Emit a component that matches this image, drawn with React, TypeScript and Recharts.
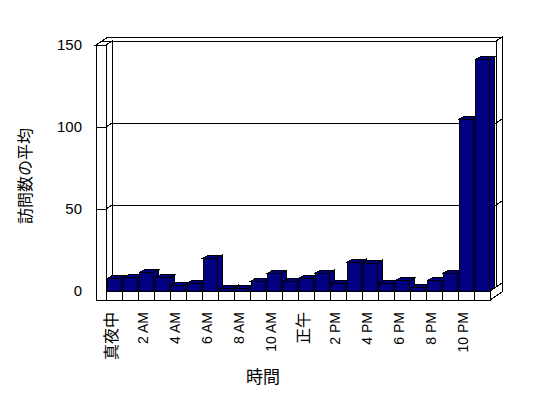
import { BarChart, Bar, XAxis, YAxis, CartesianGrid } from 'recharts';

const hours = [
  '真夜中', '1 AM', '2 AM', '3 AM', '4 AM', '5 AM', '6 AM', '7 AM', '8 AM', '9 AM', '10 AM', '11 AM',
  '正午', '1 PM', '2 PM', '3 PM', '4 PM', '5 PM', '6 PM', '7 PM', '8 PM', '9 PM', '10 PM', '11 PM',
];
const visits = [
  7.5, 8, 11, 8, 3.3, 4.7, 20, 1.6, 1.6, 6, 10.5, 6,
  7.7, 10.8, 4.7, 17.5, 16.9, 4.7, 6.1, 2, 6.1, 10.8, 104.7, 140.9,
];
const yTicks = [0, 50, 100, 150];

const data = hours.map((h, i) => ({ hour: h, value: visits[i] }));

// frame geometry (matches chart margins below)
const W = 548;
const H = 398;
const M = { top: 45, right: 58, bottom: 77, left: 46 };
const Y_AXIS_W = 60;
const X_AXIS_H = 30;
const PX0 = M.left + Y_AXIS_W;
const PX1 = W - M.right;
const PY0 = M.top;
const PY1 = H - M.bottom - X_AXIS_H;
const WALL = 10;
const FLOOR = 9;
const DX = 6;
const DY = -4;
const BDX = 5;
const BDY = -3;
const NAVY = '#000080';
const LATIN = "'Liberation Sans', Arial, 'Noto Sans CJK JP', sans-serif";
const CJK = "'Noto Sans CJK JP', sans-serif";

const pts = (a: number[][]) => a.map((p) => p.join(',')).join(' ');

function Frame() {
  const L = PX0 - WALL;
  const FB = PY1 + FLOOR;
  const band = (PX1 - PX0) / hours.length;
  const s = { fill: '#fff', stroke: '#000', strokeWidth: 1 };
  return (
    <svg width={W} height={H} style={{ position: 'absolute', left: 0, top: 0 }}>
      <g shapeRendering="crispEdges">
        <rect x={PX0 + DX} y={PY0 + DY} width={PX1 - PX0} height={PY1 - PY0} {...s} />
        <polygon points={pts([[L + DX, PY0 + DY], [PX1 + DX, PY0 + DY], [PX1 + 2 * DX, PY0 + 2 * DY], [L + 2 * DX, PY0 + 2 * DY]])} {...s} />
        <polygon points={pts([[PX1 + DX, PY0 + DY], [PX1 + 2 * DX, PY0 + 2 * DY], [PX1 + 2 * DX, PY1 + 2 * DY], [PX1 + DX, PY1 + DY]])} {...s} />
        <polygon points={pts([[PX0, PY0], [PX0 + DX, PY0 + DY], [PX0 + DX, PY1 + DY], [PX0, PY1]])} {...s} />
        <polygon points={pts([[L, PY0], [PX0, PY0], [PX0 + DX, PY0 + DY], [L + DX, PY0 + DY]])} {...s} />
        <polygon points={pts([[PX0, PY1], [PX1, PY1], [PX1 + DX, PY1 + DY], [PX0 + DX, PY1 + DY]])} {...s} />
        <polygon points={pts([[PX1, PY1], [PX1 + 2 * DX, PY1 + 2 * DY], [PX1 + 2 * DX, FB + 2 * DY], [PX1, FB]])} {...s} />
        <polygon points={pts([[L, PY0], [PX0, PY0], [PX0, PY1], [PX1, PY1], [PX1, FB], [L, FB]])} {...s} />
        {hours.map((h, i) => (
          <line key={h} x1={PX0 + band * i} y1={PY1} x2={PX0 + band * i} y2={FB} stroke="#000" />
        ))}
      </g>
      <text x={0} y={0} transform="translate(25,176) rotate(-90)" textAnchor="middle" dy="0.35em" fontSize={16} fontFamily={CJK} fill="#000">
        訪問数の平均
      </text>
      <text x={263} y={383} textAnchor="middle" fontSize={17} fontFamily={CJK} fill="#000">
        時間
      </text>
    </svg>
  );
}

function GridLine(p: any) {
  const y = p.y1;
  if (Math.abs(y - PY0) < 1 || Math.abs(y - PY1) < 1) return <g key={p.key} />;
  return (
    <g key={p.key} stroke="#000" strokeWidth={1} fill="none" shapeRendering="crispEdges">
      <line x1={p.x1 - WALL} y1={y} x2={p.x1} y2={y} />
      <line x1={p.x1} y1={y} x2={p.x1 + DX} y2={y + DY} />
      <line x1={p.x1 + DX} y1={y + DY} x2={p.x2 + DX} y2={y + DY} />
      <line x1={p.x2 + DX} y1={y + DY} x2={p.x2 + 2 * DX} y2={y + 2 * DY} />
    </g>
  );
}

function Bar3D(p: any) {
  const { x, y, width: w, height: h } = p;
  if (h == null || h <= 0) return <g />;
  return (
    <g stroke="#000" strokeWidth={1} shapeRendering="crispEdges">
      <polygon fill={NAVY} points={pts([[x + w, y], [x + w + BDX, y + BDY], [x + w + BDX, y + h + BDY], [x + w, y + h]])} />
      <polygon fill={NAVY} points={pts([[x, y], [x + w, y], [x + w + BDX, y + BDY], [x + BDX, y + BDY]])} />
      <rect x={x} y={y} width={w} height={h} fill={NAVY} />
    </g>
  );
}

function XTick(p: any) {
  const v = String(p.payload.value);
  const cjk = /[^\x00-\x7f]/.test(v);
  return (
    <text
      x={0}
      y={0}
      transform={`translate(${p.x - 2.5},${p.y + 13}) rotate(-90)`}
      textAnchor="end"
      dy="0.35em"
      fontSize={cjk ? 16 : 14}
      fontFamily={cjk ? CJK : LATIN}
      fill="#000"
    >
      {v}
    </text>
  );
}

export default function App() {
  return (
    <div style={{ position: 'absolute', left: 0, top: 0, width: W, height: H, background: '#fff' }}>
      <Frame />
      <div style={{ position: 'absolute', left: 0, top: 0 }}>
        <BarChart width={W} height={H} data={data} margin={M} barCategoryGap={1}>
          <CartesianGrid vertical={false} horizontal={GridLine} />
          <XAxis
            dataKey="hour"
            height={X_AXIS_H}
            interval={1}
            axisLine={false}
            tickLine={false}
            tick={XTick}
          />
          <YAxis
            width={Y_AXIS_W}
            domain={[0, 150]}
            ticks={yTicks}
            axisLine={false}
            tickLine={false}
            tickMargin={18}
            tick={{ fontSize: 15, fontFamily: LATIN, fill: '#000' }}
          />
          <Bar dataKey="value" shape={Bar3D} isAnimationActive={false} />
        </BarChart>
      </div>
    </div>
  );
}
